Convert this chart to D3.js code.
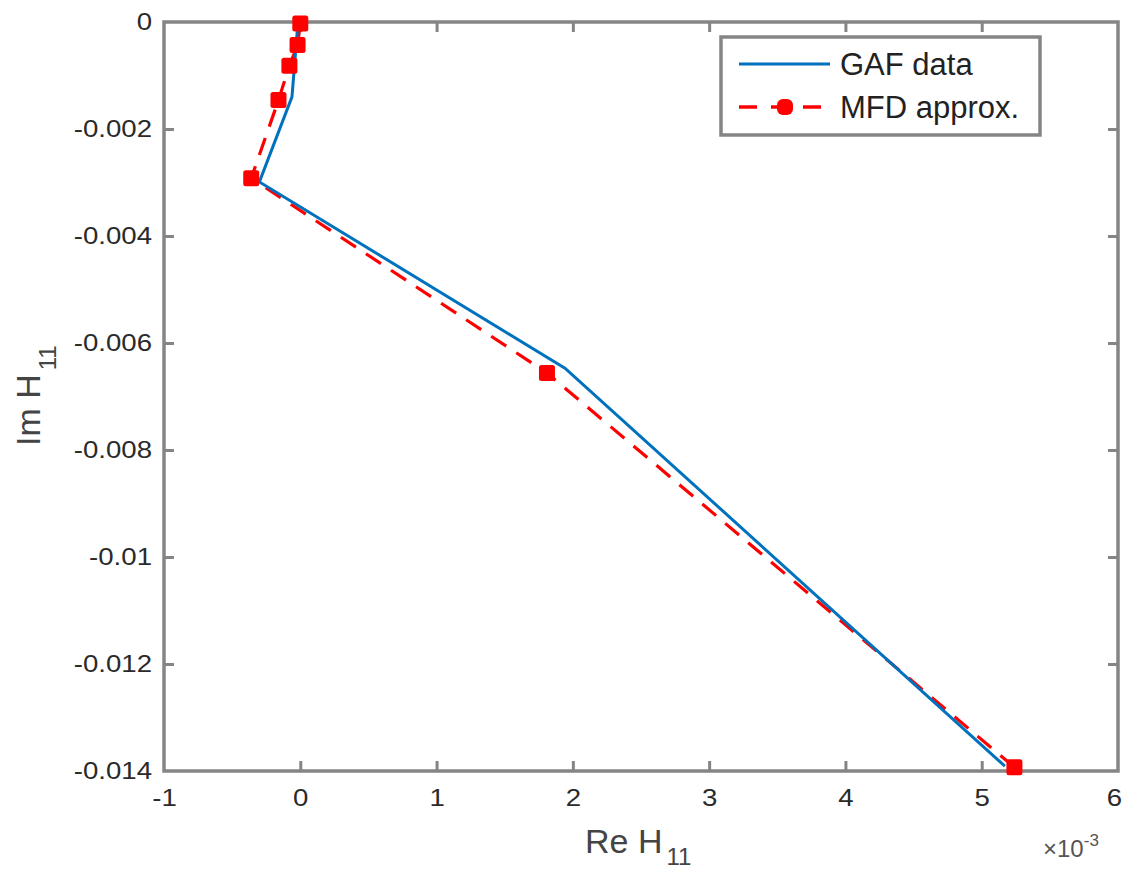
<!DOCTYPE html>
<html><head><meta charset="utf-8">
<script src="https://cdn.jsdelivr.net/npm/d3@7"></script>
<style>
html,body{margin:0;padding:0;background:#fff;}
svg{display:block;font-family:"Liberation Sans",Arial,Helvetica,sans-serif;}
</style></head>
<body>
<svg id="chart" width="1124" height="873"></svg>
<script>
// GAF data (blue solid)
const gafRe = [-0.000017, -0.000061, -0.000300, 0.001942, 0.005170];
const gafIm = [0.0, -0.00140, -0.00299, -0.00647, -0.01391];
// MFD approx (red dashed with markers)
const mfdRe = [0.0, -0.00002, -0.00008, -0.00016, -0.00036, 0.00181, 0.00524];
const mfdIm = [-0.00003, -0.00043, -0.00082, -0.00146, -0.00292, -0.00656, -0.01393];
const xTicks = [-0.001, 0, 0.001, 0.002, 0.003, 0.004, 0.005, 0.006];
const xTickLabels = ["-1","0","1","2","3","4","5","6"];
const yTicks = [0, -0.002, -0.004, -0.006, -0.008, -0.01, -0.012, -0.014];
const yTickLabels = ["0","-0.002","-0.004","-0.006","-0.008","-0.01","-0.012","-0.014"];
const legendLabels = ["GAF data", "MFD approx."];

const svg = d3.select("#chart");
const L = 164, R = 1118, T = 22, B = 771;
const x = d3.scaleLinear().domain([-0.001, 0.006]).range([L, R]);
const y = d3.scaleLinear().domain([-0.014, 0]).range([B, T]);
const axisColor = "#858585", textColor = "#2a2a2a";
const blue = "#0072BD", red = "#FF0000";

svg.append("clipPath").attr("id","clip").append("rect")
  .attr("x", L).attr("y", T-10).attr("width", R-L).attr("height", B-T+10);

function styleAxis(g){
  g.select(".domain").remove();
  g.selectAll(".tick line").attr("stroke", axisColor).attr("stroke-width", 3);
  g.selectAll(".tick text").attr("fill", textColor).style("font-size","24px");
}
const xAxis = d3.axisBottom(x).tickValues(xTicks).tickSize(-10).tickPadding(18)
  .tickFormat((d,i)=>xTickLabels[i]);
const gx = svg.append("g").attr("transform",`translate(0,${B})`).call(xAxis);
styleAxis(gx);
gx.selectAll(".tick text").attr("x",0).attr("transform",(d,i)=> i===xTicks.length-1 ? "translate(-4,0) scale(1.15,1)" : "scale(1.15,1)");
gx.selectAll(".tick").filter((d,i)=>i===0||i===xTicks.length-1).select("line").remove();

const gxTop = svg.append("g").attr("transform",`translate(0,${T})`)
  .call(d3.axisTop(x).tickValues(xTicks).tickSize(-10).tickFormat(""));
styleAxis(gxTop);
gxTop.selectAll(".tick").filter((d,i)=>i===0||i===xTicks.length-1).select("line").remove();

const yAxis = d3.axisLeft(y).tickValues(yTicks).tickSize(-10).tickPadding(12)
  .tickFormat((d,i)=>yTickLabels[i]);
const gy = svg.append("g").attr("transform",`translate(${L},0)`).call(yAxis);
styleAxis(gy);
gy.selectAll(".tick text").each(function(){
  const t = d3.select(this);
  const xx = +t.attr("x");
  t.attr("x", 0).attr("transform", `translate(${xx},0) scale(1.15,1)`);
});
gy.selectAll(".tick").filter((d,i)=>i===0||i===yTicks.length-1).select("line").remove();

const gyR = svg.append("g").attr("transform",`translate(${R},0)`)
  .call(d3.axisRight(y).tickValues(yTicks).tickSize(-10).tickFormat(""));
styleAxis(gyR);
gyR.selectAll(".tick").filter((d,i)=>i===0||i===yTicks.length-1).select("line").remove();

svg.append("rect").attr("x",L).attr("y",T).attr("width",R-L).attr("height",B-T)
  .attr("fill","none").attr("stroke",axisColor).attr("stroke-width",3.5);

const plot = svg.append("g").attr("clip-path","url(#clip)");
const gaf = gafRe.map((v,i)=>[v,gafIm[i]]);
const mfd = mfdRe.map((v,i)=>[v,mfdIm[i]]);
const line = d3.line().x(d=>x(d[0])).y(d=>y(d[1]));

plot.append("path").datum(mfd).attr("d",line).attr("fill","none")
  .attr("stroke",red).attr("stroke-width",3.2).attr("stroke-dasharray","18,12");
plot.append("path").datum(gaf).attr("d",line).attr("fill","none")
  .attr("stroke",blue).attr("stroke-width",3);
svg.append("g").selectAll("rect").data(mfd).join("rect")
  .attr("x",d=>x(d[0])-8).attr("y",d=>y(d[1])-8)
  .attr("width",16).attr("height",16).attr("rx",2.5)
  .attr("fill",red);

// axis labels
const xl = svg.append("text").attr("x",585).attr("y",853).attr("fill","#444")
  .style("font-size","34px");
xl.append("tspan").text("Re H");
xl.append("tspan").attr("dx",4).attr("dy",12).style("font-size","24px").text("11");

const yl = svg.append("text").attr("transform","translate(40,446) rotate(-90)")
  .attr("fill","#444").style("font-size","34px");
yl.append("tspan").text("Im H");
yl.append("tspan").attr("dx",4).attr("dy",16).style("font-size","24px").text("11");

const ex = svg.append("text").attr("x",1043).attr("y",857).attr("fill","#555")
  .style("font-size","24px");
ex.append("tspan").text("\u00d710");
ex.append("tspan").attr("dy",-11).style("font-size","17px").text("-3");

// legend
const lg = svg.append("g");
lg.append("rect").attr("x",721).attr("y",37).attr("width",319).attr("height",98)
  .attr("fill","#fff").attr("stroke",axisColor).attr("stroke-width",3.5);
lg.append("line").attr("x1",739).attr("x2",830).attr("y1",64).attr("y2",64)
  .attr("stroke",blue).attr("stroke-width",3);
lg.append("line").attr("x1",739).attr("x2",830).attr("y1",107).attr("y2",107)
  .attr("stroke",red).attr("stroke-width",3.5).attr("stroke-dasharray","18,14");
lg.append("rect").attr("x",777).attr("y",99).attr("width",16).attr("height",16).attr("rx",6)
  .attr("fill",red);
lg.selectAll("text.lab").data(legendLabels).join("text").attr("class","lab")
  .attr("x",840).attr("y",(d,i)=>75+i*43).attr("fill","#222")
  .style("font-size","31px").text(d=>d);
</script>
</body></html>
